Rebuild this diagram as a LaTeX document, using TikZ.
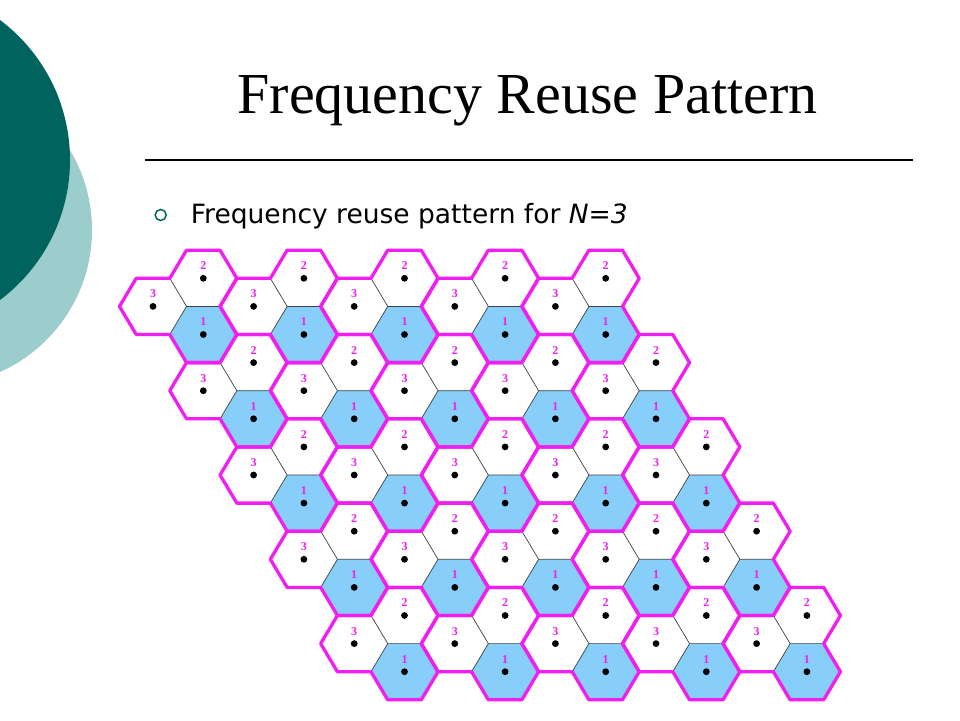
\documentclass[tikz,border=0pt]{standalone}
\usepackage{fontspec}
\setmainfont{Liberation Serif}
\newfontfamily\dejavu{DejaVu Sans}
\definecolor{hexmag}{RGB}{240,30,240}
\definecolor{cellblue}{RGB}{135,206,250}
\definecolor{darkteal}{RGB}{0,99,94}
\definecolor{lightteal}{RGB}{156,205,205}
\def\ha{33.53}
\def\hb{16.77}
\def\hh{28.1}
\newcommand\myhex[2]{(#1+\ha,#2) -- (#1+\hb,#2-\hh) -- (#1-\hb,#2-\hh) -- (#1-\ha,#2) -- (#1-\hb,#2+\hh) -- (#1+\hb,#2+\hh) -- cycle}
\begin{document}
\begin{tikzpicture}[x=1pt,y=-1pt,
  magline/.style={draw=hexmag,line width=3.3pt,line join=round},
  thinline/.style={draw=black!75,line width=0.7pt},
  celllabel/.style={text=hexmag,font=\fontsize{12}{12}\selectfont\bfseries,inner sep=0pt},
  celldot/.style={circle,fill=black,inner sep=0pt,minimum size=6.8pt}]
\useasboundingbox (0,0) rectangle (960,720);
\clip (0,0) rectangle (960,720);
\fill[white] (0,0) rectangle (960,720);
% decorative circles
\fill[lightteal] (-63.5,230) circle[radius=155.5pt];
\fill[darkteal] (-105,160) circle[radius=175pt];
% title
\node[anchor=base,inner sep=0pt,font=\fontsize{58}{60}\selectfont] (title) at (527.5,113.5) {Frequency Reuse Pattern};
\coordinate (ruleL) at (145,160);
\coordinate (ruleR) at (913,160);
\draw[line width=1.2pt] (ruleL) -- (ruleR);
% bullet line
\node[circle,draw=darkteal,line width=1.5pt,minimum size=11pt,inner sep=0pt] (bullet) at (160.7,215) {};
\node[anchor=base west,inner sep=0pt,font=\dejavu\fontsize{26.5}{28}\selectfont] (sub) at (190.7,223.3) {Frequency reuse pattern for {\itshape N}={\itshape 3}};
% cell fills
\foreach \g in {0,...,4}{
 \foreach \i in {0,...,4}{
  \pgfmathsetmacro{\cx}{203.3+50.3*(\g+2*\i)}
  \pgfmathsetmacro{\cy}{278.3+84.3*\g}
  \begin{scope}[shift={(\cx,\cy)}]
   \fill[white] \myhex{0}{0};
   \fill[white] \myhex{-50.3}{28.1};
   \fill[cellblue] \myhex{0}{56.2};
  \end{scope}
 }
}
% thin inner edges
\foreach \g in {0,...,4}{
 \foreach \i in {0,...,4}{
  \pgfmathsetmacro{\cx}{203.3+50.3*(\g+2*\i)}
  \pgfmathsetmacro{\cy}{278.3+84.3*\g}
  \begin{scope}[shift={(\cx,\cy)}]
   \draw[thinline] (-\ha,0) -- (-\hb,\hh) -- (\hb,\hh);
   \draw[thinline] (-\hb,\hh) -- (-\ha,56.2);
  \end{scope}
 }
}
% cluster outlines
\foreach \g in {0,...,4}{
 \foreach \i in {0,...,4}{
  \pgfmathsetmacro{\cx}{203.3+50.3*(\g+2*\i)}
  \pgfmathsetmacro{\cy}{278.3+84.3*\g}
  \begin{scope}[shift={(\cx,\cy)}]
   \draw[magline] (-\hb,-\hh) -- (\hb,-\hh) -- (\ha,0) -- (\hb,\hh) -- (\ha,56.2) -- (\hb,84.3) -- (-\hb,84.3) -- (-\ha,56.2) -- (-67.07,56.2) -- (-83.83,28.1) -- (-67.07,0) -- (-\ha,0) -- cycle;
  \end{scope}
 }
}
% dots and labels
\foreach \g in {0,...,4}{
 \foreach \i in {0,...,4}{
  \pgfmathsetmacro{\cx}{203.3+50.3*(\g+2*\i)}
  \pgfmathsetmacro{\cy}{278.3+84.3*\g}
  \begin{scope}[shift={(\cx,\cy)}]
   \node[celldot] (dot-\g-\i-2) at (0,0) {};
   \node[celllabel] (lbl-\g-\i-2) at (0,-12.5) {2};
   \node[celldot] (dot-\g-\i-3) at (-50.3,28.1) {};
   \node[celllabel] (lbl-\g-\i-3) at (-50.3,15.6) {3};
   \node[celldot] (dot-\g-\i-1) at (0,56.2) {};
   \node[celllabel] (lbl-\g-\i-1) at (0,43.7) {1};
  \end{scope}
 }
}
\end{tikzpicture}
\end{document}
